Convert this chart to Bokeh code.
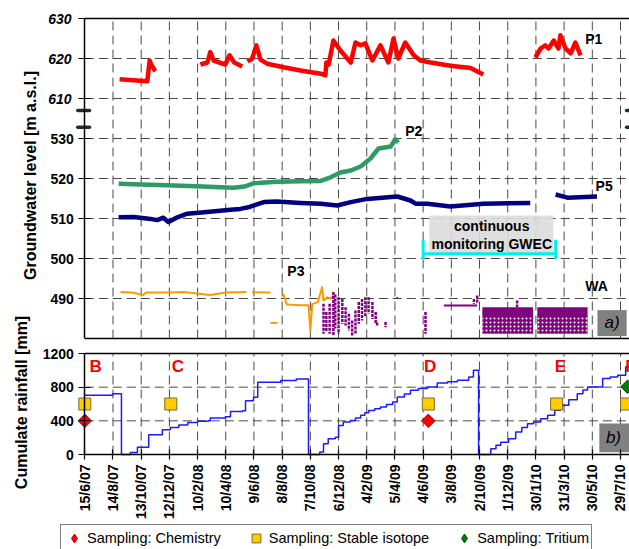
import math
import pandas as pd
from bokeh.plotting import figure
from bokeh.models import Range1d, FixedTicker, LinearAxis, Legend, LegendItem
from bokeh.core.properties import value
from bokeh.embed import file_html
from bokeh.resources import INLINE

FONT = "Liberation Sans"

# ---------------- data ----------------
start_date = "15/6/07"
date_ticks = ["15/6/07", "14/8/07", "13/10/07", "12/12/07", "10/2/08", "10/4/08",
              "9/6/08", "8/8/08", "7/10/08", "6/12/08", "4/2/09", "5/4/09", "4/6/09",
              "3/8/09", "2/10/09", "1/12/09", "30/1/10", "31/3/10", "30/5/10", "29/7/10"]
gw_ticks = [490, 500, 510, 520, 530, 610, 620, 630]
rain_ticks = [0, 400, 800, 1200]
BREAK_SHIFT = 70   # levels 610-630 sit above the axis break

# groundwater levels: day since 15/6/07, level [m a.s.l.]
p1_days = [[74, 133, 138, 142, 150],
           [246, 261, 267, 274, 299, 308, 318, 335],
           [346, 356, 365, 374, 388, 423, 459, 502, 512, 514, 519, 529, 544, 566, 576, 587,
            597, 612, 629, 646, 657, 667, 682, 700, 714, 736, 778, 821, 848],
           [959, 970, 980, 987, 998, 1008, 1012, 1023, 1034, 1044, 1055]]
p1_level = [[614.8, 614.3, 619.5, 618.3, 616.8],
            [618.5, 619.0, 621.6, 619.5, 618.5, 620.8, 619.0, 618.0],
            [619.3, 619.9, 623.3, 619.7, 618.7, 617.8, 617.0, 616.2, 615.8, 619.0, 618.5, 624.5,
             622.0, 619.0, 624.0, 623.3, 623.8, 619.5, 623.3, 619.0, 625.0, 620.0, 624.0, 620.8,
             619.5, 619.0, 618.2, 617.6, 616.0],
            [620.3, 622.5, 623.3, 622.5, 624.5, 622.5, 625.8, 622.5, 621.3, 624.0, 620.8]]

p2_days = [72, 120, 175, 250, 316, 340, 359, 409, 460, 502, 523, 544, 566, 587, 608, 625,
           651, 661, 667]
p2_level = [518.7, 518.5, 518.3, 518.0, 517.7, 518.0, 518.8, 519.2, 519.3, 519.4, 520.3,
            521.5, 522.0, 523.0, 525.0, 527.5, 528.0, 529.8, 529.0]

p5_days = [[72, 104, 140, 154, 167, 178, 197, 218, 260, 310, 331, 348, 381, 409, 459, 502,
            537, 566, 601, 665, 693, 704, 729, 778, 848, 948],
           [1002, 1027, 1090]]
p5_level = [[510.3, 510.4, 509.9, 509.6, 510.2, 509.1, 510.3, 511.2, 511.6, 512.2, 512.4,
             512.8, 514.1, 514.25, 513.9, 513.7, 513.25, 514.1, 514.9, 515.5, 514.5, 513.7,
             513.7, 513.0, 513.7, 513.9],
            [516.0, 515.2, 515.5]]

p3_days = [[76, 100, 125, 130, 176, 210, 267, 300, 344],
           [356, 395],
           [395, 410],
           [422, 430, 459, 476, 480, 484, 496, 505, 508, 516, 523, 529]]
p3_level = [[491.6, 491.5, 490.9, 491.5, 491.5, 491.6, 490.9, 491.5, 491.6],
            [491.6, 491.5],
            [483.9, 483.9],
            [491.2, 488.5, 488.3, 488.3, 482.0, 488.6, 489.1, 492.8, 489.5, 490.3, 490.0, 490.8]]

# WA scattered readings: day, highest and lowest level seen
wa_days = [508, 514, 521, 529, 533, 540, 548, 555, 562, 569, 576, 583, 590, 597, 604, 612,
           619, 622, 640, 665, 725, 828, 835, 920]
wa_high = [488.7, 486.6, 488.7, 491.6, 491.0, 490.3, 489.9, 487.8, 486.2, 484.5, 487.0, 489.1,
           489.9, 490.3, 490.3, 489.1, 486.6, 484.0, 484.1, 490.3, 486.6, 489.9, 490.75, 489.5]
wa_low = [481.2, 481.6, 481.2, 480.8, 482.5, 481.2, 483.7, 483.25, 482.0, 480.75, 481.2, 483.7,
          484.5, 485.3, 486.2, 484.9, 483.7, 483.2, 482.8, 489.9, 481.2, 488.7, 488.7, 487.8]
wa_flat_days = [764, 835]
wa_flat_level = 488.25
wa_block_start = [846, 963]
wa_block_end = [954, 1070]
wa_block_top = 487.8
wa_block_band = 485.6
wa_block_low = 481.2

# cumulative rainfall [mm]
rain_days = [0, 59, 78, 97, 112, 136, 165, 182, 200, 219, 240, 263, 267, 299, 310, 336, 342,
             359, 368, 417, 450, 476,
             500, 508, 518, 533, 540, 550, 565, 576, 587, 596, 604, 617, 629, 642, 655, 665,
             680, 693, 710, 729, 750, 772, 793, 817, 827, 838,
             853, 864, 875, 885, 902, 917, 930, 942, 955, 970, 985, 1000, 1012, 1030, 1048,
             1060, 1070, 1090, 1102, 1118, 1134, 1151, 1160]
rain_mm = [703, 723, 0, 24, 87, 235, 294, 322, 350, 381, 395, 401, 433, 449, 512, 520, 640,
           679, 858, 878, 898, 0,
           30, 127, 187, 206, 345, 385, 405, 435, 465, 495, 524, 545, 564, 595, 623, 683,
           720, 763, 785, 802, 850, 865, 882, 921, 1001, 0,
           0, 68, 110, 147, 187, 266, 320, 366, 385, 425, 465, 525, 584, 650, 723,
           765, 802, 802, 902, 920, 941, 1040, 1060]

chem_days = [0, 731]
chem_mm = [400, 400]
iso_days = [0, 183, 731, 1004, 1153]
iso_mm = [600, 600, 600, 600, 600]
trit_days = [1155]
trit_mm = [805]

campaign_labels = ["B", "C", "D", "E", "F"]
campaign_days = [23, 198, 735, 1012, 1161]

# ---------------- layout ----------------
W, H = 629, 549
X0_PX, PX_PER_DAY = 84.3, 0.46991          # day 0 position, scale
GW_TOP_PX, GW_PX_PER_M = 18, 4.0           # 630 (displayed 560) at y=18
RAIN0_PX, RAIN_PX_PER_MM = 454, 101 / 1200.0
GW_TOP = 630 - BREAK_SHIFT
GW_LOW = 480
X_START = -X0_PX / PX_PER_DAY
X_END = (W - X0_PX) / PX_PER_DAY


def gw(v):
    return v - BREAK_SHIFT if v >= 600 else v


t0 = pd.to_datetime(start_date, format="%d/%m/%y")
tick_days = [int((pd.to_datetime(d, format="%d/%m/%y") - t0).days) for d in date_ticks]

p = figure(width=W, height=H,
           x_range=Range1d(X_START, X_END),
           y_range=Range1d(GW_TOP - (H - GW_TOP_PX) / GW_PX_PER_M,
                           GW_TOP + GW_TOP_PX / GW_PX_PER_M),
           min_border_left=0, min_border_right=0, min_border_top=0, min_border_bottom=0,
           x_axis_location=None, y_axis_location=None,
           output_backend="svg", toolbar_location=None, title=None)
p.extra_y_ranges = {"rain": Range1d(-(H - RAIN0_PX) / RAIN_PX_PER_MM,
                                    RAIN0_PX / RAIN_PX_PER_MM)}
p.background_fill_color = "white"
p.border_fill_color = "white"
p.outline_line_color = None
p.grid.visible = False

GRID_COLOR = "#4a4a4a"
GRID_DASH = "9 5"

# ---------------- grids (dashed) ----------------
inner_days = [d for d in tick_days if d > 0]
gw_grid = [gw(v) for v in gw_ticks if GW_LOW < gw(v) < GW_TOP]
p.segment(x0=inner_days, x1=inner_days, y0=[GW_LOW] * len(inner_days),
          y1=[GW_TOP] * len(inner_days), line_color=GRID_COLOR, line_dash=GRID_DASH,
          line_width=1, level="underlay")
p.segment(x0=[0] * len(gw_grid), x1=[X_END] * len(gw_grid), y0=gw_grid, y1=gw_grid,
          line_color=GRID_COLOR, line_dash=GRID_DASH, line_width=1, level="underlay")
p.segment(x0=inner_days, x1=inner_days, y0=[0] * len(inner_days),
          y1=[max(rain_ticks)] * len(inner_days), y_range_name="rain",
          line_color=GRID_COLOR, line_dash=GRID_DASH, line_width=1, level="underlay")
rain_grid = [r for r in rain_ticks if 0 < r < max(rain_ticks)]
p.segment(x0=[0] * len(rain_grid), x1=[X_END] * len(rain_grid), y0=rain_grid, y1=rain_grid,
          y_range_name="rain", line_color=GRID_COLOR, line_dash=GRID_DASH, line_width=1,
          level="underlay")

# panel borders
p.segment(x0=[0, 0], x1=[X_END, X_END], y0=[GW_TOP, GW_LOW], y1=[GW_TOP, GW_LOW],
          line_color="black", line_width=1.5)
p.segment(x0=[0], x1=[X_END], y0=[max(rain_ticks)], y1=[max(rain_ticks)],
          y_range_name="rain", line_color="black", line_width=1.5)


def style_axis(ax):
    ax.axis_line_color = "black"
    ax.axis_line_width = 1.5
    ax.major_tick_line_color = "black"
    ax.major_tick_line_width = 1.2
    ax.major_tick_in = 6
    ax.major_tick_out = 6
    ax.minor_tick_line_color = None
    ax.major_label_text_font = FONT
    ax.major_label_text_font_size = "14px"
    ax.major_label_text_font_style = "bold"
    ax.major_label_text_color = "black"
    ax.major_label_standoff = 5


# ---------------- axes ----------------
gw_disp = [gw(v) for v in gw_ticks]
ax_gw = LinearAxis(fixed_location=0, bounds=(GW_LOW, GW_TOP),
                   ticker=FixedTicker(ticks=gw_disp),
                   major_label_overrides={d: ("" if v >= 600 else str(v))
                                          for v, d in zip(gw_ticks, gw_disp)})
style_axis(ax_gw)
p.add_layout(ax_gw, "left")

ax_rain = LinearAxis(y_range_name="rain", fixed_location=0, bounds=(0, max(rain_ticks)),
                     ticker=FixedTicker(ticks=rain_ticks))
style_axis(ax_rain)
p.add_layout(ax_rain, "left")

ax_x = LinearAxis(y_range_name="rain", fixed_location=0, bounds=(0, X_END),
                  ticker=FixedTicker(ticks=tick_days),
                  major_label_overrides={d: lab for d, lab in zip(tick_days, date_ticks)},
                  major_label_orientation=math.pi / 2)
style_axis(ax_x)
ax_x.major_tick_in = 5
ax_x.major_tick_out = 5
p.add_layout(ax_x, "below")

# italic tick labels above the break
top_ticks = [v for v in gw_ticks if v >= 600]
p.text(x=[-28] * len(top_ticks), y=[gw(v) for v in top_ticks], text=[str(v) for v in top_ticks],
       text_align="right", text_baseline="middle", text_font=value(FONT),
       text_font_size="14px", text_font_style="bold italic", text_color="black")

# axis break marks
for yb in (537.0, 532.8):
    p.line([-15, 10], [yb, yb], line_color="#1a2e2e", line_width=3.5, line_cap="round")
    p.line([1153, 1180], [yb, yb], line_color="#1a2e2e", line_width=3.5, line_cap="round")

# axis titles
p.text(x=[-116], y=[520.75], text=["Groundwater level [m a.s.l.]"], angle=math.pi / 2,
       text_align="center", text_baseline="middle", text_font=value(FONT),
       text_font_size="16px", text_font_style="bold", text_color="black")
p.text(x=[-135], y=[618], text=["Cumulate rainfall [mm]"], angle=math.pi / 2,
       y_range_name="rain", text_align="center", text_baseline="middle",
       text_font=value(FONT), text_font_size="16px", text_font_style="bold",
       text_color="black")

# ---------------- top panel ----------------
p.multi_line(xs=p1_days, ys=[[gw(v) for v in s] for s in p1_level], line_color="#ff0000",
             line_width=4.5, line_join="round")
p.line(p2_days, [gw(v) for v in p2_level], line_color="#2e9a64", line_width=4.5,
       line_join="round")
p.multi_line(xs=p5_days, ys=[[gw(v) for v in s] for s in p5_level], line_color="#000080",
             line_width=4.5, line_join="round")
p.multi_line(xs=p3_days, ys=[[gw(v) for v in s] for s in p3_level], line_color="#ff9900",
             line_width=2, line_join="round")
PURPLE = "#800080"
p.segment(x0=wa_days, y0=wa_high, x1=wa_days, y1=wa_low, line_color=PURPLE, line_width=2.5,
          line_dash="3 1")
p.line(wa_flat_days, [wa_flat_level, wa_flat_level], line_color=PURPLE, line_width=2)
p.quad(left=wa_block_start, right=wa_block_end, top=[wa_block_band] * 2,
       bottom=[wa_block_low] * 2, fill_color=PURPLE, line_color=None,
       hatch_pattern="dot", hatch_color="white", hatch_scale=4, hatch_weight=1.2)
p.quad(left=wa_block_start, right=wa_block_end, top=[wa_block_top] * 2,
       bottom=[wa_block_band] * 2, fill_color=PURPLE, line_color=None)

# continuous monitoring box + bracket
p.quad(left=[733], right=[997], top=[510.75], bottom=[501.3], fill_color="#dcdcdc",
       fill_alpha=0.9, line_color=None)
p.text(x=[866, 866], y=[508.1, 503.7], text=["continuous", "monitoring GWEC"],
       text_align="center", text_baseline="middle", text_font=value(FONT),
       text_font_size="14px", text_font_style="bold", text_color="black")
p.multi_line(xs=[[720, 1002], [720, 720], [1002, 1002]],
             ys=[[501.2, 501.2], [504.7, 499.9], [504.7, 499.9]], line_color="#00f0f0",
             line_width=3)

# series labels
p.text(x=[1065, 682, 1087, 431, 1065], y=[555, 531.9, 518.25, 497, 493.25],
       text=["P1", "P2", "P5", "P3", "WA"], text_align="left", text_baseline="middle",
       text_font=value(FONT), text_font_size="14px", text_font_style="bold",
       text_color="black")

# panel tag a)
p.quad(left=[1091], right=[1153], top=[487.1], bottom=[480.6], fill_color="#808080",
       line_color=None)
p.text(x=[1122], y=[483.9], text=["a)"], text_align="center", text_baseline="middle",
       text_font=value(FONT), text_font_size="17px", text_font_style="italic",
       text_color="black")

# ---------------- bottom panel ----------------
p.step(rain_days, rain_mm, mode="after", y_range_name="rain", line_color="#1a1aff",
       line_width=1.5)
p.scatter(chem_days, chem_mm, y_range_name="rain", marker="square", angle=math.pi / 4,
          size=9.5, fill_color="#ff0000", line_color="#b00000")
r_iso = p.scatter(iso_days, iso_mm, y_range_name="rain", marker="square", size=12,
                  fill_color="#ffcc00", line_color="#7a6a30")
p.scatter(trit_days, trit_mm, y_range_name="rain", marker="square", angle=math.pi / 4,
          size=9.5, fill_color="#008000", line_color="#004000")
# legend swatches (diamond proxies kept off-canvas)
leg_chem = p.scatter(x=[X_START - 100], y=[0], y_range_name="rain", marker="diamond",
                     fill_color="#ff0000", line_color="#b00000")
leg_trit = p.scatter(x=[X_START - 100], y=[0], y_range_name="rain", marker="diamond",
                     fill_color="#008000", line_color="#004000")
p.text(x=campaign_days, y=[1050] * len(campaign_days), text=campaign_labels,
       y_range_name="rain", text_align="center", text_baseline="middle",
       text_font=value(FONT), text_font_size="17px", text_font_style="bold",
       text_color="#ff0000")
p.quad(left=[1095], right=[1175], top=[369], bottom=[27], y_range_name="rain",
       fill_color="#808080", line_color=None)
p.text(x=[1125], y=[203], text=["b)"], y_range_name="rain", text_align="center",
       text_baseline="middle", text_font=value(FONT), text_font_size="17px",
       text_font_style="italic", text_color="black")

# legend
legend = Legend(items=[LegendItem(label="Sampling: Chemistry", renderers=[leg_chem]),
                       LegendItem(label="Sampling: Stable isotope", renderers=[r_iso]),
                       LegendItem(label="Sampling: Tritium", renderers=[leg_trit])],
                orientation="horizontal", location=(60, -3), margin=0, padding=2,
                spacing=24, glyph_width=22, glyph_height=22, label_standoff=2,
                label_text_font=FONT, label_text_font_size="14.5px",
                label_text_color="black", border_line_color="black", border_line_width=1,
                background_fill_color="white", background_fill_alpha=1)
p.add_layout(legend)

open("out.html", "w").write(file_html(p, INLINE))
